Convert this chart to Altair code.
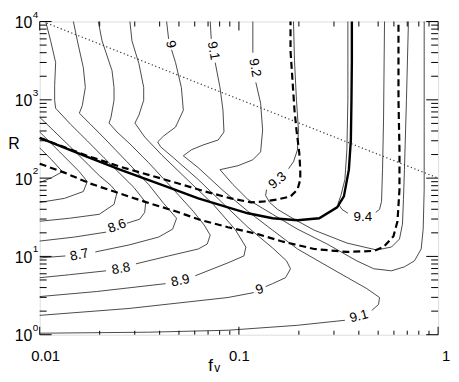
import altair as alt
import pandas as pd

# ---------- values, as log10(f_v) and log10(R) ----------
SOLID_LF = [-2.000, -1.761, -1.597, -1.363, -1.204, -1.055, -0.955, -0.831, -0.706, -0.597, -0.507, -0.473, -0.448, -0.438, -0.435, -0.433, -0.433]
SOLID_LR = [2.513, 2.272, 2.108, 1.892, 1.741, 1.627, 1.551, 1.487, 1.462, 1.487, 1.627, 1.766, 2.108, 2.487, 2.994, 3.500, 4.000]

DASH1_LF = [-2.000, -1.761, -1.597, -1.388, -1.169, -1.040, -0.940, -0.871, -0.806, -0.741, -0.706, -0.692, -0.692, -0.697, -0.711, -0.721, -0.731, -0.741, -0.741]
DASH1_LR = [2.513, 2.285, 2.146, 1.994, 1.829, 1.741, 1.690, 1.703, 1.728, 1.766, 1.854, 1.981, 2.108, 2.323, 2.614, 2.867, 3.247, 3.627, 4.000]

DASH2_LF = [-2.000, -1.876, -1.746, -1.612, -1.463, -1.318, -1.189, -1.055, -0.905, -0.791, -0.622, -0.458, -0.323, -0.274, -0.224, -0.204, -0.194, -0.194, -0.199, -0.199]
DASH2_LR = [2.184, 2.070, 1.930, 1.816, 1.690, 1.576, 1.462, 1.373, 1.285, 1.196, 1.095, 1.057, 1.070, 1.120, 1.259, 1.449, 1.854, 2.361, 2.994, 4.000]

DOT_LF = [-1.965, 0.0]
DOT_LR = [3.980, 2.000]

C83_LF = [-2.000, -1.940, -1.886, -1.940, -2.000]
C83_LR = [2.386, 2.234, 2.082, 2.006, 1.943]
C84_LF = [-2.000, -1.900, -1.801, -1.761, -1.781, -1.876, -2.000]
C84_LR = [2.589, 2.335, 2.082, 1.956, 1.829, 1.741, 1.690]
C85_LF = [-2.000, -1.851, -1.701, -1.642, -1.612, -1.627, -1.701, -1.851, -2.000]
C85_LR = [2.778, 2.411, 2.032, 1.905, 1.816, 1.665, 1.538, 1.487, 1.449]

C86A_LF = [-1.970, -1.945, -1.920, -1.925, -1.925, -1.920, -1.846, -1.761, -1.677, -1.602, -1.527, -1.468, -1.473, -1.498, -1.562]
C86A_LR = [4.000, 3.753, 3.475, 3.184, 2.994, 2.892, 2.690, 2.475, 2.259, 2.070, 1.880, 1.690, 1.563, 1.475, 1.424]
C86B_LF = [-1.667, -1.826, -2.000]
C86B_LR = [1.310, 1.247, 1.196]

C87A_LF = [-1.831, -1.811, -1.781, -1.771, -1.786, -1.801, -1.746, -1.677, -1.562, -1.453, -1.378, -1.313, -1.333, -1.403, -1.552, -1.721]
C87A_LR = [4.000, 3.753, 3.411, 3.158, 2.930, 2.829, 2.690, 2.513, 2.209, 1.918, 1.677, 1.487, 1.348, 1.247, 1.146, 1.057]
C87B_LF = [-1.871, -2.000]
C87B_LR = [1.006, 0.981]

C88A_LF = [-1.706, -1.687, -1.637, -1.627, -1.627, -1.642, -1.652, -1.612, -1.547, -1.453, -1.328, -1.229, -1.174, -1.144, -1.159, -1.204, -1.353, -1.517]
C88A_LR = [4.000, 3.753, 3.373, 3.158, 2.994, 2.778, 2.703, 2.589, 2.437, 2.196, 1.854, 1.576, 1.399, 1.272, 1.158, 1.095, 1.006, 0.905]
C88B_LF = [-1.667, -1.851, -2.000]
C88B_LR = [0.816, 0.766, 0.728]

C89A_LF = [-1.547, -1.537, -1.502, -1.478, -1.478, -1.502, -1.522, -1.473, -1.388, -1.254, -1.129, -1.020, -0.965, -0.975, -1.055, -1.219]
C89A_LR = [4.000, 3.753, 3.462, 3.158, 2.994, 2.804, 2.703, 2.525, 2.297, 1.968, 1.665, 1.348, 1.120, 1.006, 0.918, 0.753]
C89B_LF = [-1.368, -1.716, -2.000]
C89B_LR = [0.652, 0.551, 0.487]

C90A_LF = [-1.363, -1.353]
C90A_LR = [4.000, 3.778]
C90B_LF = [-1.338, -1.318, -1.289, -1.279, -1.318, -1.378, -1.408, -1.393, -1.328, -1.204, -1.080, -0.955, -0.831, -0.761, -0.741, -0.766, -0.831, -0.866]
C90B_LR = [3.639, 3.475, 3.158, 2.867, 2.652, 2.538, 2.462, 2.399, 2.259, 1.981, 1.677, 1.373, 1.108, 0.943, 0.842, 0.728, 0.652, 0.614]
C90C_LF = [-0.925, -1.055, -1.552, -2.000]
C90C_LR = [0.538, 0.475, 0.335, 0.247]

C91A_LF = [-1.144, -1.139]
C91A_LR = [4.000, 3.778]
C91B_LF = [-1.119, -1.095, -1.080, -1.075, -1.104, -1.179, -1.239, -1.279, -1.204, -1.080, -0.955, -0.831, -0.706, -0.507, -0.358, -0.294, -0.299, -0.333]
C91B_LR = [3.475, 3.158, 2.867, 2.589, 2.487, 2.424, 2.361, 2.285, 2.133, 1.842, 1.576, 1.335, 1.095, 0.804, 0.589, 0.475, 0.386, 0.310]
C91C_LF = [-0.468, -0.706, -1.055, -1.453, -2.000]
C91C_LR = [0.184, 0.120, 0.057, 0.032, 0.019]

C92A_LF = [-0.930, -0.930]
C92A_LR = [4.000, 3.601]
C92B_LF = [-0.915, -0.891, -0.881, -0.891, -0.930, -1.005, -1.095, -1.030, -0.955, -0.831, -0.706, -0.557, -0.408, -0.323, -0.234, -0.169, -0.119, -0.085, -0.075, -0.070, -0.070, -0.070]
C92B_LR = [3.222, 2.956, 2.614, 2.335, 2.234, 2.158, 2.108, 1.918, 1.728, 1.538, 1.348, 1.158, 0.943, 0.842, 0.816, 0.867, 0.943, 1.095, 1.348, 1.854, 2.994, 4.000]

C93A_LF = [-0.726, -0.721, -0.711, -0.701, -0.706, -0.726, -0.751]
C93A_LR = [4.000, 3.500, 2.994, 2.614, 2.361, 2.209, 2.120]
C93B_LF = [-0.861, -0.866, -0.846, -0.806, -0.731, -0.622, -0.458, -0.308, -0.234, -0.194, -0.179, -0.174, -0.169, -0.159, -0.149]
C93B_LR = [1.854, 1.778, 1.690, 1.601, 1.487, 1.335, 1.171, 1.082, 1.120, 1.222, 1.411, 1.728, 2.108, 2.994, 4.000]

C94A_LF = [-0.453, -0.453, -0.458, -0.468, -0.488, -0.502, -0.483, -0.453]
C94A_LR = [4.000, 2.994, 2.361, 1.981, 1.778, 1.677, 1.601, 1.551]
C94B_LF = [-0.313, -0.294, -0.284, -0.279, -0.274, -0.269]
C94B_LR = [1.563, 1.601, 1.703, 2.108, 2.741, 4.000]

LAB_TEXT = ["8.6", "8.7", "8.8", "8.9", "9", "9.1", "9", "9.1", "9.2", "9.3", "9.4"]
LAB_LF = [-1.612, -1.801, -1.592, -1.294, -0.896, -0.398, -1.343, -1.129, -0.920, -0.806, -0.378]
LAB_LR = [1.386, 1.019, 0.842, 0.690, 0.576, 0.234, 3.709, 3.627, 3.411, 1.968, 1.500]
LAB_ANGLE = [340, 348, 350, 348, 340, 345, 78, 80, 80, 320, 0]

X_MAJOR = [0.01, 0.1, 1]
X_MINOR = [0.02, 0.03, 0.04, 0.05, 0.06, 0.07, 0.08, 0.09, 0.2, 0.3, 0.4, 0.5, 0.6, 0.7, 0.8, 0.9]
Y_MAJOR = [1, 10, 100, 1000, 10000]
Y_MINOR = [2, 3, 4, 5, 6, 7, 8, 9, 20, 30, 40, 50, 60, 70, 80, 90,
           200, 300, 400, 500, 600, 700, 800, 900, 2000, 3000, 4000, 5000, 6000, 7000, 8000, 9000]
Y_EXP = ["0", "1", "2", "3", "4"]

FONT = "Liberation Sans"
XS = alt.Scale(type="log", domain=[0.01, 1], nice=False)
YS = alt.Scale(type="log", domain=[1, 10000], nice=False)


def frame(parts):
    rows = []
    for name, lf, lr in parts:
        for i, (a, b) in enumerate(zip(lf, lr)):
            rows.append({"seg": name, "i": i, "f": 10 ** a, "R": 10 ** b})
    return pd.DataFrame(rows)


def lines(df, **mk):
    return alt.Chart(df).mark_line(**mk).encode(
        x=alt.X("f:Q", scale=XS, axis=None),
        y=alt.Y("R:Q", scale=YS, axis=None),
        detail="seg:N",
        order="i:Q",
    )


thin_df = frame([
    ("c83", C83_LF, C83_LR), ("c84", C84_LF, C84_LR), ("c85", C85_LF, C85_LR),
    ("c86a", C86A_LF, C86A_LR), ("c86b", C86B_LF, C86B_LR),
    ("c87a", C87A_LF, C87A_LR), ("c87b", C87B_LF, C87B_LR),
    ("c88a", C88A_LF, C88A_LR), ("c88b", C88B_LF, C88B_LR),
    ("c89a", C89A_LF, C89A_LR), ("c89b", C89B_LF, C89B_LR),
    ("c90a", C90A_LF, C90A_LR), ("c90b", C90B_LF, C90B_LR), ("c90c", C90C_LF, C90C_LR),
    ("c91a", C91A_LF, C91A_LR), ("c91b", C91B_LF, C91B_LR), ("c91c", C91C_LF, C91C_LR),
    ("c92a", C92A_LF, C92A_LR), ("c92b", C92B_LF, C92B_LR),
    ("c93a", C93A_LF, C93A_LR), ("c93b", C93B_LF, C93B_LR),
    ("c94a", C94A_LF, C94A_LR), ("c94b", C94B_LF, C94B_LR),
])

thin = lines(thin_df, color="#2a2a2a", strokeWidth=0.85)
dotted = lines(frame([("dot", DOT_LF, DOT_LR)]), color="#333333", strokeWidth=1.2, strokeDash=[1.2, 2.6])
dashed = lines(frame([("d1", DASH1_LF, DASH1_LR), ("d2", DASH2_LF, DASH2_LR)]),
               color="black", strokeWidth=2.2, strokeDash=[7, 4])
solid = lines(frame([("s", SOLID_LF, SOLID_LR)]), color="black", strokeWidth=2.4)

lab_df = pd.DataFrame({
    "f": [10 ** v for v in LAB_LF],
    "R": [10 ** v for v in LAB_LR],
    "t": LAB_TEXT,
    "a": LAB_ANGLE,
})
labels = alt.Chart(lab_df).mark_text(font=FONT, fontSize=13.5, align="center", baseline="middle", color="black").encode(
    x=alt.X("f:Q", scale=XS, axis=None),
    y=alt.Y("R:Q", scale=YS, axis=None),
    text="t:N",
    angle=alt.Angle("a:Q", scale=None),
)

H = 316
W = 402


def xticks(vals, y0, y1):
    return alt.Chart(pd.DataFrame({"v": vals})).mark_rule(color="black", strokeWidth=1).encode(
        x=alt.X("v:Q", scale=XS, axis=None), y=alt.value(y0), y2=alt.value(y1))


def yticks(vals, x0, x1):
    return alt.Chart(pd.DataFrame({"v": vals})).mark_rule(color="black", strokeWidth=1).encode(
        y=alt.Y("v:Q", scale=YS, axis=None), x=alt.value(x0), x2=alt.value(x1))


ticks = [
    xticks(X_MINOR, H, H - 4), xticks(X_MAJOR, H, H - 8),
    xticks(X_MINOR, 0, 5), xticks(X_MAJOR, 0, 9),
    yticks(Y_MINOR, 0, 7), yticks(Y_MAJOR, 0, 12),
    yticks(Y_MINOR, W, W - 7), yticks(Y_MAJOR, W, W - 12),
]

xl = []
for val, txt, off in zip(X_MAJOR, ["0.01", "0.1", "1"], [6, 0.5, 8]):
    xl.append(alt.Chart(pd.DataFrame({"v": [val], "t": [txt]})).mark_text(
        font=FONT, fontSize=15, align="center", baseline="middle", dx=off, color="black").encode(
        x=alt.X("v:Q", scale=XS, axis=None), y=alt.value(H + 22), text="t:N"))

ylab_df = pd.DataFrame({"v": Y_MAJOR, "e": Y_EXP})
ybase = alt.Chart(ylab_df).mark_text(font=FONT, fontSize=16, align="right", baseline="middle", dy=1.5, color="black").encode(
    y=alt.Y("v:Q", scale=YS, axis=None), x=alt.value(-7.5), text=alt.value("10"))
yexp = alt.Chart(ylab_df).mark_text(font=FONT, fontSize=10, align="left", baseline="middle", dy=-7, color="black").encode(
    y=alt.Y("v:Q", scale=YS, axis=None), x=alt.value(-7), text="e:N")

title_df = pd.DataFrame({"t": ["R"]})
rtitle = alt.Chart(title_df).mark_text(font=FONT, fontSize=16, align="center", baseline="middle", color="black").encode(
    x=alt.value(-26), y=alt.value(124), text="t:N")
ftitle = alt.Chart(pd.DataFrame({"t": ["f"]})).mark_text(font=FONT, fontSize=17, align="center", baseline="alphabetic", color="black").encode(
    x=alt.value(172.5), y=alt.value(352.5), text="t:N")
vtitle = alt.Chart(pd.DataFrame({"t": ["v"]})).mark_text(font=FONT, fontSize=12, align="center", baseline="alphabetic", color="black").encode(
    x=alt.value(179), y=alt.value(354), text="t:N")

chart = alt.layer(
    thin, dotted, dashed, solid, labels, *ticks, *xl, ybase, yexp, rtitle, ftitle, vtitle
).properties(
    width=W, height=H,
    padding={"left": 32, "top": 12, "right": 13, "bottom": 38},
    autosize=alt.AutoSizeParams(type="none"),
).configure_view(stroke="black", strokeWidth=1.6).configure(background="white")

chart.save("out.html", embed_options={"renderer": "svg", "actions": False})
